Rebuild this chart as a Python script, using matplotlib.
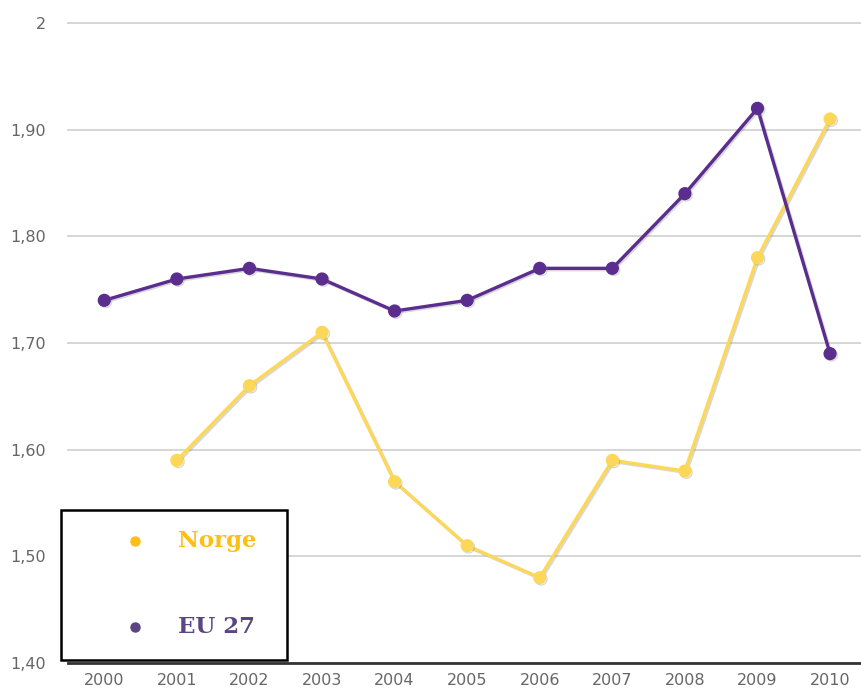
import numpy as np
import matplotlib.pyplot as plt
import matplotlib.patheffects as pe
from matplotlib.patches import Rectangle
from matplotlib.lines import Line2D

# data
years = [2000, 2001, 2002, 2003, 2004, 2005, 2006, 2007, 2008, 2009, 2010]
eu27 = [1.74, 1.76, 1.77, 1.76, 1.73, 1.74, 1.77, 1.77, 1.84, 1.92, 1.69]
norge = [np.nan, 1.59, 1.66, 1.71, 1.57, 1.51, 1.48, 1.59, 1.58, 1.78, 1.91]
yticks = [1.40, 1.50, 1.60, 1.70, 1.80, 1.90, 2.00]
ytick_labels = ["1,40", "1,50", "1,60", "1,70", "1,80", "1,90", "2"]

purple = "#5a2d8e"
yellow = "#fdd858"

fig = plt.figure(figsize=(8.62, 6.88), dpi=100)
ax = fig.add_axes([68/862, 25/688, 794/862, 640/688])

shadow = [pe.SimpleLineShadow(offset=(1, -1), shadow_color="grey", alpha=0.3), pe.Normal()]

ax.plot(years, norge, color=yellow, lw=2.4, marker="o", ms=8.5, clip_on=False,
        path_effects=shadow, zorder=3)
ax.plot(years, eu27, color=purple, lw=2.4, marker="o", ms=8.5, clip_on=False,
        path_effects=shadow, zorder=4)

ax.set_xlim(1999.5, 2010.44)
ax.set_ylim(1.40, 2.00)
ax.set_yticks(yticks)
ax.set_yticklabels(ytick_labels)
ax.set_xticks(years)
ax.set_xticklabels([str(y) for y in years])
ax.grid(axis="y", color="#d6d6d6", lw=1.4)
for gl in ax.get_ygridlines():
    gl.set_clip_on(False)
ax.set_axisbelow(True)
for s in ["top", "right", "left"]:
    ax.spines[s].set_visible(False)
ax.spines["bottom"].set_color("#333333")
ax.spines["bottom"].set_linewidth(2)
ax.spines["bottom"].set_zorder(2)
ax.tick_params(axis="both", length=0, labelsize=11.5, colors="#666666")
ax.tick_params(axis="y", pad=16)
ax.tick_params(axis="x", pad=7)

# legend box, drawn by hand to match the original layout
W, H = 862, 688
fig.add_artist(Rectangle((61/W, (H-660)/H), 226/W, 150/H, transform=fig.transFigure,
                         facecolor="white", edgecolor="black", lw=1.8, zorder=10))
legend_items = [("Norge", "#fdbf14", (H-541)/H), ("EU 27", "#5b4582", (H-627)/H)]
for label, col, yy in legend_items:
    fig.add_artist(Line2D([135/W], [yy], marker="o", ms=6.5, color=col,
                          transform=fig.transFigure, zorder=11))
    fig.text(178/W, yy, label, color=col, fontsize=16.5, fontweight="bold",
             family="DejaVu Serif", va="center", ha="left", zorder=11)

fig.savefig("out.png", dpi=100)
